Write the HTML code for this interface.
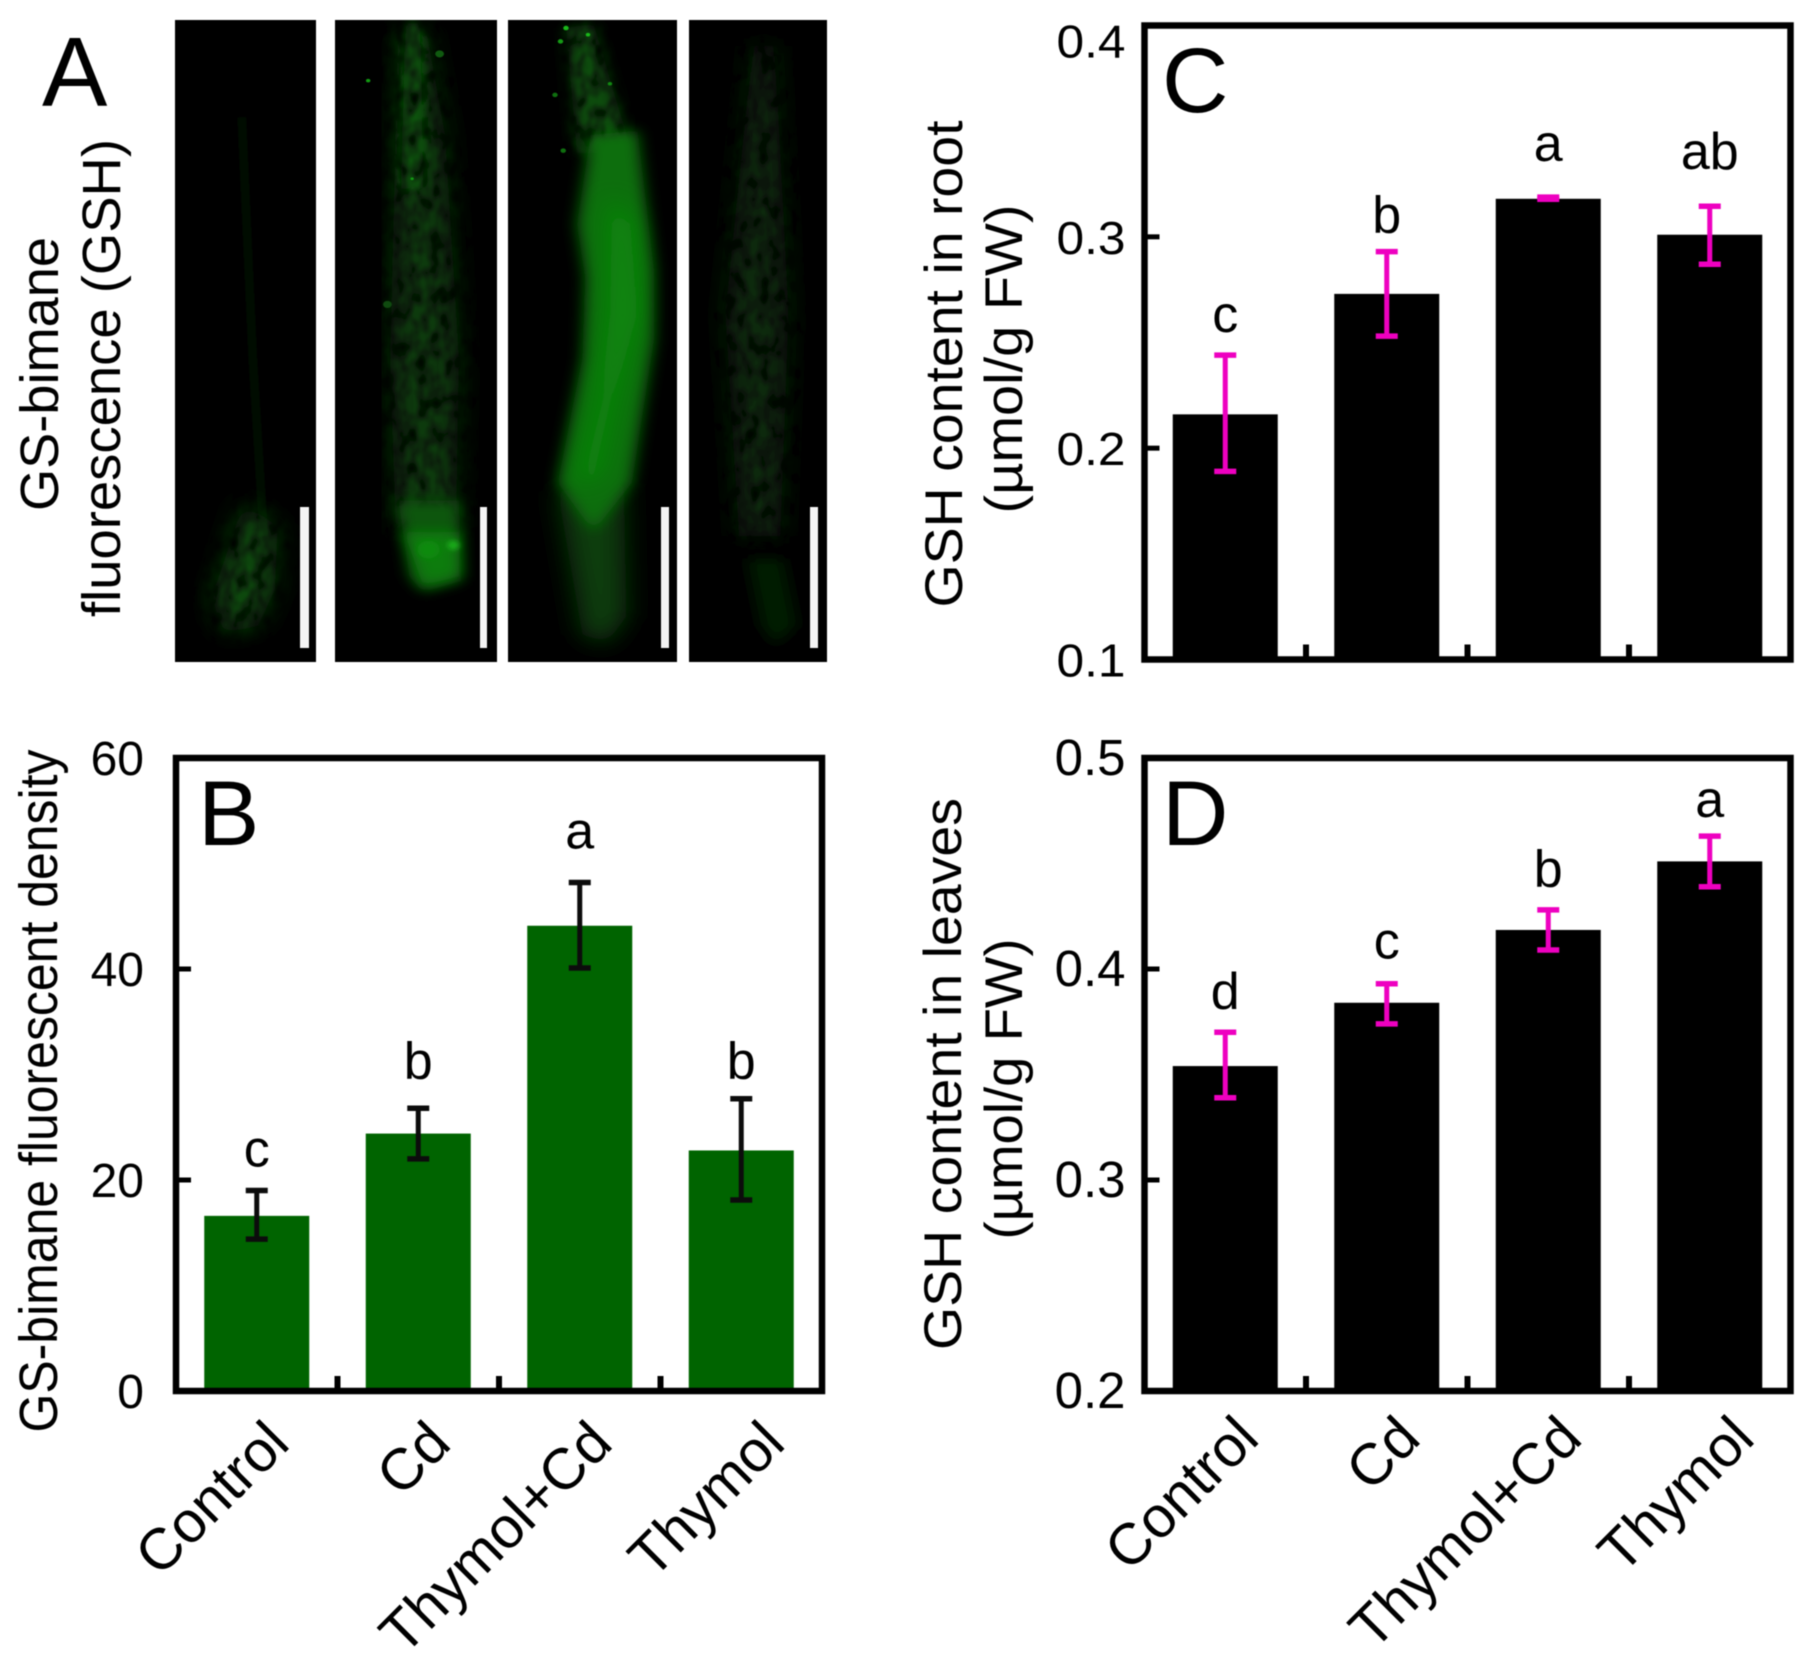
<!DOCTYPE html>
<html lang="en">
<head>
<meta charset="utf-8">
<title>GSH fluorescence and content panels</title>
<style>
html,body{margin:0;padding:0;background:#fff;}
svg{display:block;filter:blur(.45px);}
text{font-family:"Liberation Sans",Arial,sans-serif;fill:#000;}
</style>
</head>
<body>
<svg id="figure" xmlns="http://www.w3.org/2000/svg" width="1810" height="1660" viewBox="0 0 1810 1660">
  <defs>
    <filter id="b24" x="-60%" y="-60%" width="220%" height="220%"><feGaussianBlur stdDeviation="24"/></filter>
    <filter id="b14" x="-60%" y="-60%" width="220%" height="220%"><feGaussianBlur stdDeviation="14"/></filter>
    <filter id="b6" x="-60%" y="-60%" width="220%" height="220%"><feGaussianBlur stdDeviation="6"/></filter>
    <filter id="mottle" x="-40%" y="-20%" width="180%" height="140%">
      <feTurbulence type="fractalNoise" baseFrequency="0.05 0.025" numOctaves="2" seed="4" result="n"/>
      <feColorMatrix in="n" type="matrix" values="0 0 0 0 0  0 0 0 0 0  0 0 0 0 0  1.7 0 0 0 -0.15" result="a"/>
      <feGaussianBlur in="a" stdDeviation="2.5" result="soft"/>
      <feComposite in="SourceGraphic" in2="soft" operator="in"/>
    </filter>
    <clipPath id="clip1"><rect x="318" y="42" width="258" height="1440"/></clipPath>
    <clipPath id="clip2"><rect x="610" y="42" width="294" height="1440"/></clipPath>
    <clipPath id="clip3"><rect x="924" y="42" width="309" height="1440"/></clipPath>
    <clipPath id="clip4"><rect x="1254" y="42" width="252" height="1440"/></clipPath>
  </defs>

  <g id="panel-a">
    <rect x="175" y="20" width="141" height="642" fill="#000"/>
    <rect x="335" y="20" width="162" height="642" fill="#000"/>
    <rect x="508" y="20" width="169" height="642" fill="#000"/>
    <rect x="689" y="20" width="138" height="642" fill="#000"/>
    <g transform="matrix(.5495 0 0 .4458 0 1.28)">
      <g clip-path="url(#clip1)">
        <path d="M440 260 L460 800 L480 1200" stroke="#031003" stroke-width="16" fill="none" filter="url(#b6)"/>
        <g filter="url(#mottle)">
          <path d="M445 1120 L505 1180 L500 1320 L470 1400 L410 1420 L385 1340 Z" fill="#0e4a0e" filter="url(#b24)"/>
        </g>
      </g>
      <g clip-path="url(#clip2)">
        <g filter="url(#mottle)">
          <path d="M725 60 L775 60 L810 300 L835 800 L830 1180 L720 1180 L710 800 L720 300 Z" fill="#0a3a0a" filter="url(#b24)"/>
          <path d="M738 50 L765 50 L770 420 L730 420 Z" fill="#0f5c0f" filter="url(#b14)"/>
        </g>
        <path d="M725 1120 L835 1120 L840 1300 L770 1325 L745 1290 Z" fill="#0a560a" filter="url(#b14)"/>
        <path d="M735 1190 L835 1190 L835 1290 L770 1310 Z" fill="#0c7c0c" filter="url(#b14)"/>
        <circle cx="825" cy="1220" r="10" fill="#1ab81a" filter="url(#b6)"/>
        <circle cx="780" cy="1230" r="20" fill="#0f8a0f" filter="url(#b6)"/>
        <circle cx="670" cy="178" r="4" fill="#129a12"/>
        <circle cx="750" cy="398" r="3" fill="#129a12"/>
        <circle cx="800" cy="118" r="8" fill="#0f5a0f"/>
        <circle cx="705" cy="680" r="8" fill="#0f4a0f"/>
      </g>
      <g clip-path="url(#clip3)">
        <g filter="url(#mottle)">
          <path d="M1030 60 L1080 50 L1150 340 L1050 340 Z" fill="#0c4c0c" filter="url(#b14)"/>
        </g>
        <path d="M1015 1100 L1135 1080 L1140 1380 L1100 1445 L1060 1420 Z" fill="#0a3e0a" filter="url(#b24)"/>
        <path d="M1075 300 L1160 290 L1190 600 L1190 760 L1150 1080 L1080 1190 L1015 1080 L1060 800 L1065 620 L1050 500 Z" fill="#096e09" filter="url(#b14)"/>
        <path d="M1110 430 L1150 500 L1160 700 L1120 900 L1090 1060 L1050 1090 L1090 880 L1110 700 Z" fill="#0c8c0c" filter="url(#b24)"/>
        <circle cx="1030" cy="60" r="5" fill="#1ab81a"/>
        <circle cx="1020" cy="90" r="5" fill="#159a15"/>
        <circle cx="1070" cy="75" r="4" fill="#1ab81a"/>
        <circle cx="1110" cy="185" r="4" fill="#118811"/>
        <circle cx="1010" cy="210" r="5" fill="#0f6f0f"/>
        <circle cx="1025" cy="335" r="5" fill="#0f6f0f"/>
      </g>
      <g clip-path="url(#clip4)">
        <g filter="url(#mottle)">
          <path d="M1370 100 L1410 100 L1435 700 L1420 1200 L1345 1200 L1320 700 Z" fill="#0a2c0a" filter="url(#b24)"/>
        </g>
        <path d="M1360 1250 L1425 1250 L1450 1400 L1410 1445 L1385 1400 Z" fill="#061c06" filter="url(#b14)"/>
      </g>
    </g>
    <rect x="300" y="507" width="9" height="141" fill="#f4f4f4"/>
    <rect x="480" y="507" width="7" height="141" fill="#f4f4f4"/>
    <rect x="661" y="507" width="8" height="141" fill="#f4f4f4"/>
    <rect x="810" y="507" width="8" height="141" fill="#f4f4f4"/>
    <text x="42" y="106" font-size="98">A</text>
    <text transform="translate(58,374) rotate(-90)" text-anchor="middle" font-size="54" textLength="274" lengthAdjust="spacingAndGlyphs">GS-bimane</text>
    <text transform="translate(120,378) rotate(-90)" text-anchor="middle" font-size="54" textLength="478" lengthAdjust="spacingAndGlyphs">fluorescence (GSH)</text>
  </g>

  <g id="panel-b">
    <text x="198" y="845" font-size="92">B</text>
    <text transform="translate(57,1091) rotate(-90)" text-anchor="middle" font-size="54" textLength="683" lengthAdjust="spacingAndGlyphs">GS-bimane fluorescent density</text>
  </g>
  <g id="panel-c">
    <text x="1162" y="112" font-size="92">C</text>
    <text transform="translate(962,364) rotate(-90)" text-anchor="middle" font-size="53" textLength="487" lengthAdjust="spacingAndGlyphs">GSH content in root</text>
    <text transform="translate(1022,359) rotate(-90)" text-anchor="middle" font-size="53" textLength="309" lengthAdjust="spacingAndGlyphs">(µmol/g FW)</text>
  </g>
  <g id="panel-d">
    <text x="1162" y="845" font-size="92">D</text>
    <text transform="translate(961,1074) rotate(-90)" text-anchor="middle" font-size="53" textLength="552" lengthAdjust="spacingAndGlyphs">GSH content in leaves</text>
    <text transform="translate(1022,1089) rotate(-90)" text-anchor="middle" font-size="53" textLength="301" lengthAdjust="spacingAndGlyphs">(µmol/g FW)</text>
  </g>
</svg>

<script>
const categories = ['Control', 'Cd', 'Thymol+Cd', 'Thymol'];

const bValues = [16.6, 24.4, 44.1, 22.8];
const bErrLow = [14.4, 22.0, 40.1, 18.1];
const bErrHigh = [19.0, 26.8, 48.2, 27.7];
const bLetters = ['c', 'b', 'a', 'b'];
const bLetterLevels = [21.3, 29.6, 51.4, 29.6];
const bTicks = [0, 20, 40, 60];
const bTickLabels = ['0', '20', '40', '60'];

const cValues = [0.216, 0.273, 0.318, 0.301];
const cErrLow = [0.189, 0.253, 0.3178, 0.287];
const cErrHigh = [0.244, 0.293, 0.3188, 0.3145];
const cLetters = ['c', 'b', 'a', 'ab'];
const cLetterLevels = [0.255, 0.302, 0.336, 0.332];
const cTicks = [0.1, 0.2, 0.3, 0.4];
const cTickLabels = ['0.1', '0.2', '0.3', '0.4'];

const dValues = [0.354, 0.384, 0.4185, 0.451];
const dErrLow = [0.339, 0.374, 0.409, 0.439];
const dErrHigh = [0.37, 0.393, 0.428, 0.463];
const dLetters = ['d', 'c', 'b', 'a'];
const dLetterLevels = [0.381, 0.405, 0.439, 0.472];
const dTicks = [0.2, 0.3, 0.4, 0.5];
const dTickLabels = ['0.2', '0.3', '0.4', '0.5'];

const NS = 'http://www.w3.org/2000/svg';

function make(parent, tag, attrs, content) {
  const el = document.createElementNS(NS, tag);
  Object.keys(attrs).forEach(function (k) { el.setAttribute(k, attrs[k]); });
  if (content !== undefined) el.textContent = content;
  parent.appendChild(el);
  return el;
}

function drawPanel(cfg) {
  const g = document.getElementById(cfg.id);
  const band = (cfg.right - cfg.left) / categories.length;
  const barWidth = 105;
  const x = function (i) { return cfg.left + band * (i + 0.5); };
  const y = function (v) {
    return cfg.bottom - (v - cfg.min) / (cfg.max - cfg.min) * (cfg.bottom - cfg.top);
  };

  cfg.values.forEach(function (v, i) {
    const bar = make(g, 'rect', {
      x: x(i) - barWidth / 2, y: y(v), width: barWidth, height: cfg.bottom - y(v), fill: cfg.barColor
    });
    
    
  });

  cfg.values.forEach(function (v, i) {
    const cap = 11;
    const eg = make(g, 'g', { stroke: cfg.errColor, fill: 'none' });
    
    
    make(eg, 'line', { x1: x(i), x2: x(i), y1: y(cfg.errLow[i]), y2: y(cfg.errHigh[i]), 'stroke-width': 5 });
    make(eg, 'line', { x1: x(i) - cap, x2: x(i) + cap, y1: y(cfg.errHigh[i]), y2: y(cfg.errHigh[i]), 'stroke-width': 5.5 });
    make(eg, 'line', { x1: x(i) - cap, x2: x(i) + cap, y1: y(cfg.errLow[i]), y2: y(cfg.errLow[i]), 'stroke-width': 5.5 });
  });

  const frame = make(g, 'rect', {
    x: cfg.left, y: cfg.top, width: cfg.right - cfg.left, height: cfg.bottom - cfg.top,
    fill: 'none', stroke: '#000', 'stroke-width': 6.5
  });
  
  

  cfg.ticks.forEach(function (t, i) {
    if (i > 0 && i < cfg.ticks.length - 1) {
      const mark = make(g, 'line', { x1: cfg.left, x2: cfg.left + 15, y1: y(t), y2: y(t), stroke: '#000', 'stroke-width': 5 });
      
      
    }
    const offset = (cfg.topLabelDrop && i === cfg.ticks.length - 1) ? 32 : 17;
    const attrs = { x: cfg.left - cfg.tickGap, y: y(t) + offset, 'text-anchor': 'end', 'font-size': cfg.tickFont };
    if (cfg.tickLength && cfg.tickLabels[i].length === 3) {
      attrs.textLength = cfg.tickLength;
      attrs.lengthAdjust = 'spacingAndGlyphs';
    }
    const label = make(g, 'text', attrs, cfg.tickLabels[i]);
    
    
  });

  for (let i = 1; i < categories.length; i++) {
    const xm = make(g, 'line', {
      x1: cfg.left + band * i, x2: cfg.left + band * i, y1: cfg.bottom, y2: cfg.bottom - 15, stroke: '#000', 'stroke-width': 6
    });
    
    
  }

  cfg.letters.forEach(function (s, i) {
    const letter = make(g, 'text', { x: x(i), y: y(cfg.letterLevels[i]), 'text-anchor': 'middle', 'font-size': 52 }, s);
    
    
  });

  if (cfg.showCategories) {
    categories.forEach(function (name, i) {
      const extra = name === 'Thymol' ? 11 : 0;
      const px = x(i) + cfg.catDx + extra;
      const py = cfg.bottom + cfg.catDy;
      const cat = make(g, 'text', {
        transform: 'translate(' + px + ',' + py + ') rotate(-45)', 'text-anchor': 'end', 'font-size': 58
      }, name);
      
      
    });
  }
}

drawPanel({
  id: 'panel-b', left: 176, right: 822, top: 758, bottom: 1391, min: 0, max: 60,
  values: bValues, errLow: bErrLow, errHigh: bErrHigh, letters: bLetters, letterLevels: bLetterLevels,
  ticks: bTicks, tickLabels: bTickLabels, barColor: '#006400', errColor: '#0c0c0c',
  tickFont: 48, tickGap: 32, showCategories: true, catDx: 35, catDy: 55
});
drawPanel({
  id: 'panel-c', left: 1144.5, right: 1790.5, top: 25.5, bottom: 659.5, min: 0.1, max: 0.4,
  values: cValues, errLow: cErrLow, errHigh: cErrHigh, letters: cLetters, letterLevels: cLetterLevels,
  ticks: cTicks, tickLabels: cTickLabels, barColor: '#000', errColor: '#ee00c0',
  tickFont: 46, tickGap: 19, tickLength: 69, topLabelDrop: true, showCategories: false
});
drawPanel({
  id: 'panel-d', left: 1144.5, right: 1790.5, top: 758, bottom: 1391, min: 0.2, max: 0.5,
  values: dValues, errLow: dErrLow, errHigh: dErrHigh, letters: dLetters, letterLevels: dLetterLevels,
  ticks: dTicks, tickLabels: dTickLabels, barColor: '#000', errColor: '#ee00c0',
  tickFont: 51, tickGap: 19, showCategories: true, catDx: 36, catDy: 50
});
</script>
</body>
</html>
